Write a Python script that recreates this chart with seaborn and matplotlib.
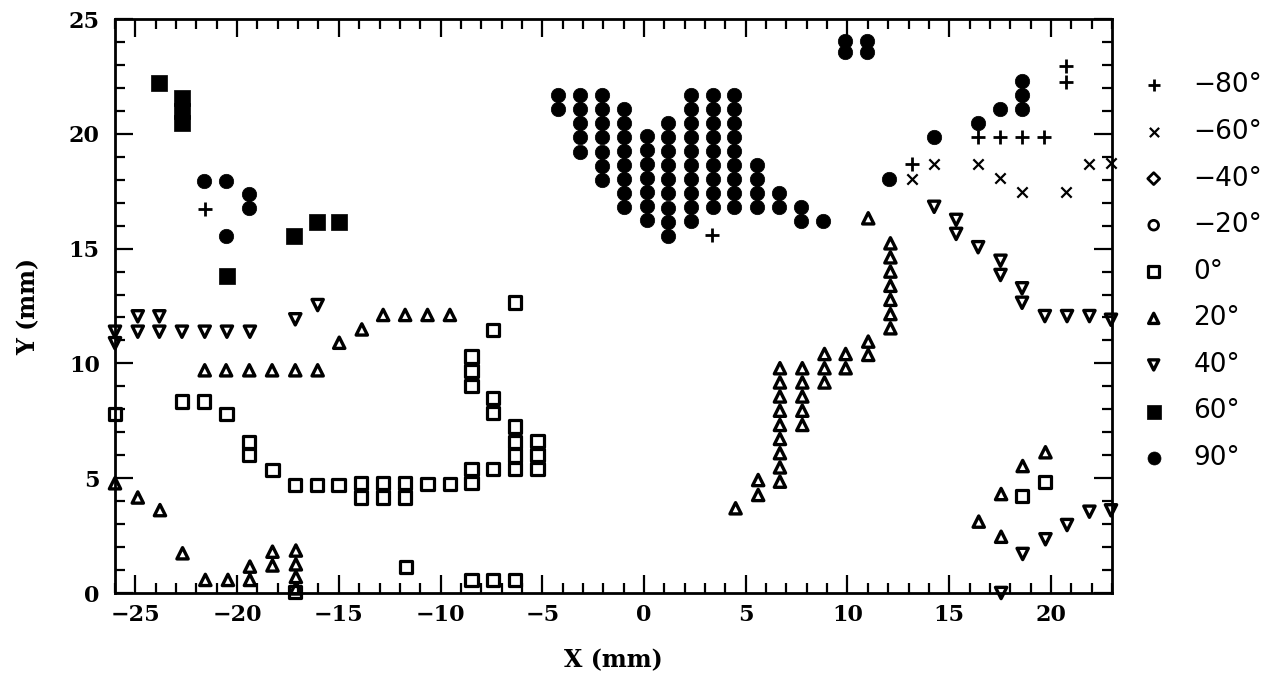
import matplotlib
matplotlib.use("Agg")
import matplotlib.pyplot as plt
from matplotlib.ticker import MultipleLocator
import seaborn as sns

# ---- measured points, grouped by angle ----
labels = ["−80°", "−60°", "−40°", "−20°", "0°", "20°", "40°", "60°", "90°"]

m80_x = [-21.59, 3.35, 13.15, 16.39, 17.49, 18.58, 19.66, 20.74, 20.74]
m80_y = [16.72, 15.59, 18.67, 19.87, 19.87, 19.87, 19.87, 22.95, 22.27]

m60_x = [13.15, 14.26, 16.42, 17.52, 18.58, 20.74, 21.86, 22.95]
m60_y = [18.02, 18.67, 18.67, 18.06, 17.48, 17.48, 18.67, 18.71]

m40_x = []
m40_y = []

m20_x = []
m20_y = []

p0_x = [-26.0, -22.71, -21.61, -20.52, -19.40, -19.40, -18.26,
        -17.14, -16.09, -15.01, -13.92, -13.92, -12.82, -12.82, -11.74, -11.74,
        -10.64, -9.54, -8.48, -8.48, -7.42,
        -6.34, -6.34, -6.34, -6.34, -5.24, -5.24, -5.24,
        -7.42, -7.42, -8.48, -8.48, -8.48, -7.42, -6.35,
        -11.71, -8.48, -7.42, -6.34, -17.14,
        18.58, 19.70]
p0_y = [7.80, 8.34, 8.34, 7.80, 6.59, 6.00, 5.36,
        4.70, 4.70, 4.70, 4.78, 4.16, 4.78, 4.16, 4.78, 4.16,
        4.75, 4.75, 4.78, 5.39, 5.39,
        5.39, 5.99, 6.59, 7.25, 5.39, 6.01, 6.63,
        7.85, 8.48, 9.03, 9.67, 10.30, 11.46, 12.65,
        1.12, 0.57, 0.57, 0.57, 0.05,
        4.24, 4.85]

p20_x = [-14.98, -13.87, -12.82, -11.74, -10.64, -9.54,
         -21.59, -20.54, -19.40, -18.28, -17.14, -16.04,
         -26.0, -24.88, -23.79, -22.68, -21.56, -20.45, -19.37, -19.37,
         -18.26, -18.26, -17.11, -17.11, -17.11, -17.11,
         4.50, 5.61, 5.61,
         6.68, 6.68, 6.68, 6.68, 6.68, 6.68, 6.68, 6.68, 6.68,
         7.78, 7.78, 7.78, 7.78, 7.78,
         8.87, 8.87, 8.87, 9.91, 9.91, 11.02, 11.02,
         12.11, 12.11, 12.11, 12.11, 12.11, 12.11, 12.11,
         11.02, 16.45, 17.55, 17.55, 18.61, 19.73]
p20_y = [10.90, 11.48, 12.11, 12.11, 12.11, 12.11,
         9.70, 9.70, 9.70, 9.70, 9.70, 9.70,
         4.78, 4.16, 3.61, 1.73, 0.57, 0.57, 1.15, 0.57,
         1.80, 1.20, 1.85, 1.25, 0.70, 0.20,
         3.69, 4.92, 4.27,
         9.79, 9.17, 8.56, 7.94, 7.32, 6.71, 6.09, 5.47, 4.85,
         9.79, 9.17, 8.56, 7.94, 7.32,
         10.41, 9.79, 9.17, 10.41, 9.79, 10.95, 10.37,
         15.23, 14.62, 14.00, 13.38, 12.77, 12.15, 11.53,
         16.32, 3.11, 4.31, 2.45, 5.53, 6.13]

p40_x = [-26.0, -26.0, -24.88, -24.88, -23.82, -23.82,
         -22.71, -21.59, -20.50, -19.37, -17.14, -16.04,
         14.26, 15.34, 15.34, 16.42, 17.52, 17.52, 18.58, 18.58,
         19.70, 20.79, 21.89, 22.95,
         18.61, 19.73, 20.79, 21.89, 22.95, 17.55]
p40_y = [11.38, 10.88, 12.05, 11.38, 12.05, 11.38,
         11.38, 11.38, 11.38, 11.38, 11.92, 12.54,
         16.82, 16.25, 15.64, 15.06, 14.47, 13.85, 13.27, 12.64,
         12.06, 12.06, 12.06, 11.90,
         1.70, 2.34, 2.96, 3.54, 3.60, 0.00]

p60_x = [-23.82, -22.71, -22.71, -22.71, -20.52, -17.19, -16.09, -15.01]
p60_y = [22.23, 21.55, 21.00, 20.46, 13.79, 15.55, 16.14, 16.14]

p90_x = [-21.64, -20.54, -19.43, -19.43, -20.54,
         -4.21, -4.21,
         -3.14, -3.14, -3.14, -3.14, -3.14,
         -2.05, -2.05, -2.05, -2.05, -2.05, -2.05, -2.05,
         -0.98, -0.98, -0.98, -0.98, -0.98, -0.98, -0.98, -0.98,
         0.13, 0.13, 0.13, 0.13, 0.13, 0.13, 0.13,
         1.19, 1.19, 1.19, 1.19, 1.19, 1.19, 1.19, 1.19, 1.19,
         2.29, 2.29, 2.29, 2.29, 2.29, 2.29, 2.29, 2.29, 2.29, 2.29,
         3.37, 3.37, 3.37, 3.37, 3.37, 3.37, 3.37, 3.37, 3.37,
         4.42, 4.42, 4.42, 4.42, 4.42, 4.42, 4.42, 4.42, 4.42,
         5.57, 5.57, 5.57, 5.57,
         6.63, 6.63, 7.73, 7.73, 8.81,
         9.87, 9.87, 10.95, 10.95,
         12.03, 14.26, 16.42, 17.49, 18.58, 18.58, 18.58]
p90_y = [17.94, 17.94, 17.38, 16.76, 15.55,
         21.69, 21.07,
         21.69, 21.07, 20.46, 19.84, 19.22,
         21.69, 21.07, 20.46, 19.84, 19.22, 18.61, 17.99,
         21.07, 20.46, 19.85, 19.24, 18.63, 18.02, 17.41, 16.80,
         19.89, 19.28, 18.67, 18.06, 17.45, 16.84, 16.23,
         20.45, 19.84, 19.23, 18.62, 18.01, 17.40, 16.79, 16.18, 15.57,
         21.69, 21.08, 20.47, 19.86, 19.25, 18.64, 18.03, 17.42, 16.81, 16.20,
         21.69, 21.08, 20.47, 19.86, 19.25, 18.64, 18.03, 17.42, 16.81,
         21.69, 21.08, 20.47, 19.86, 19.25, 18.64, 18.03, 17.42, 16.81,
         18.64, 18.03, 17.42, 16.81,
         17.42, 16.81, 16.81, 16.20, 16.20,
         24.05, 23.55, 24.05, 23.55,
         18.02, 19.87, 20.48, 21.08, 22.31, 21.69, 21.07]

x_ticks = [-25, -20, -15, -10, -5, 0, 5, 10, 15, 20]
y_ticks = [0, 5, 10, 15, 20, 25]

# ---- styling ----
sns.set_style("ticks")
plt.rcParams["font.family"] = ["DejaVu Serif"]
plt.rcParams["text.color"] = "black"
plt.rcParams["axes.labelcolor"] = "black"

series = [
    (m80_x, m80_y, dict(marker="+", s=90, linewidths=2.0, color="black")),
    (m60_x, m60_y, dict(marker="x", s=55, linewidths=1.6, color="black")),
    (m40_x, m40_y, dict(marker="D", s=45, linewidths=2.0, facecolors="none", edgecolors="black")),
    (m20_x, m20_y, dict(marker="o", s=60, linewidths=2.0, facecolors="none", edgecolors="black")),
    (p0_x, p0_y, dict(marker="s", s=78, linewidths=2.3, facecolors="none", edgecolors="black")),
    (p20_x, p20_y, dict(marker="^", s=66, linewidths=2.4, facecolors="none", edgecolors="black")),
    (p40_x, p40_y, dict(marker="v", s=66, linewidths=2.4, facecolors="none", edgecolors="black")),
    (p60_x, p60_y, dict(marker="s", s=135, linewidths=0.5, facecolors="black", edgecolors="black")),
    (p90_x, p90_y, dict(marker="o", s=108, linewidths=0.5, facecolors="black", edgecolors="black")),
]

fig = plt.figure(figsize=(12.79, 6.78), dpi=100)
ax = fig.add_axes([115 / 1279, 1 - 593 / 678, 997 / 1279, 574 / 678])

for (xs, ys, kw), lab in zip(series, labels):
    if len(xs):
        sns.scatterplot(x=xs, y=ys, ax=ax, label=lab, clip_on=False, zorder=3, **kw)
    else:
        ax.scatter(xs, ys, label=lab, **kw)

ax.set_xlim(-26, 23)
ax.set_ylim(0, 25)
ax.set_xticks(x_ticks)
ax.set_yticks(y_ticks)
ax.xaxis.set_minor_locator(MultipleLocator(1))
ax.yaxis.set_minor_locator(MultipleLocator(1))
ax.tick_params(which="both", direction="in", top=True, right=True,
               width=1.6, colors="black")
ax.tick_params(which="major", length=13)
ax.tick_params(which="minor", length=7)
ax.tick_params(axis="x", which="major", pad=8, labelsize=16)
ax.tick_params(axis="y", which="major", pad=11, labelsize=16)
for t in ax.get_xticklabels() + ax.get_yticklabels():
    t.set_fontweight("bold")
for sp in ax.spines.values():
    sp.set_linewidth(2.0)
    sp.set_color("black")

ax.set_xlabel("X (mm)", fontsize=17, fontweight="bold", labelpad=16, color="black")
ax.set_ylabel("Y (mm)", fontsize=17, fontweight="bold", labelpad=20, color="black")

leg = ax.legend(loc="upper left", bbox_to_anchor=(1.0286, 0.907),
                frameon=False, borderpad=0, borderaxespad=0,
                handlelength=1.0, handletextpad=1.0, labelspacing=0.78,
                markerscale=0.9, prop={"family": "DejaVu Sans", "size": 19})
for txt in leg.get_texts():
    txt.set_color("black")

fig.savefig("out.png", dpi=100, facecolor="white")
